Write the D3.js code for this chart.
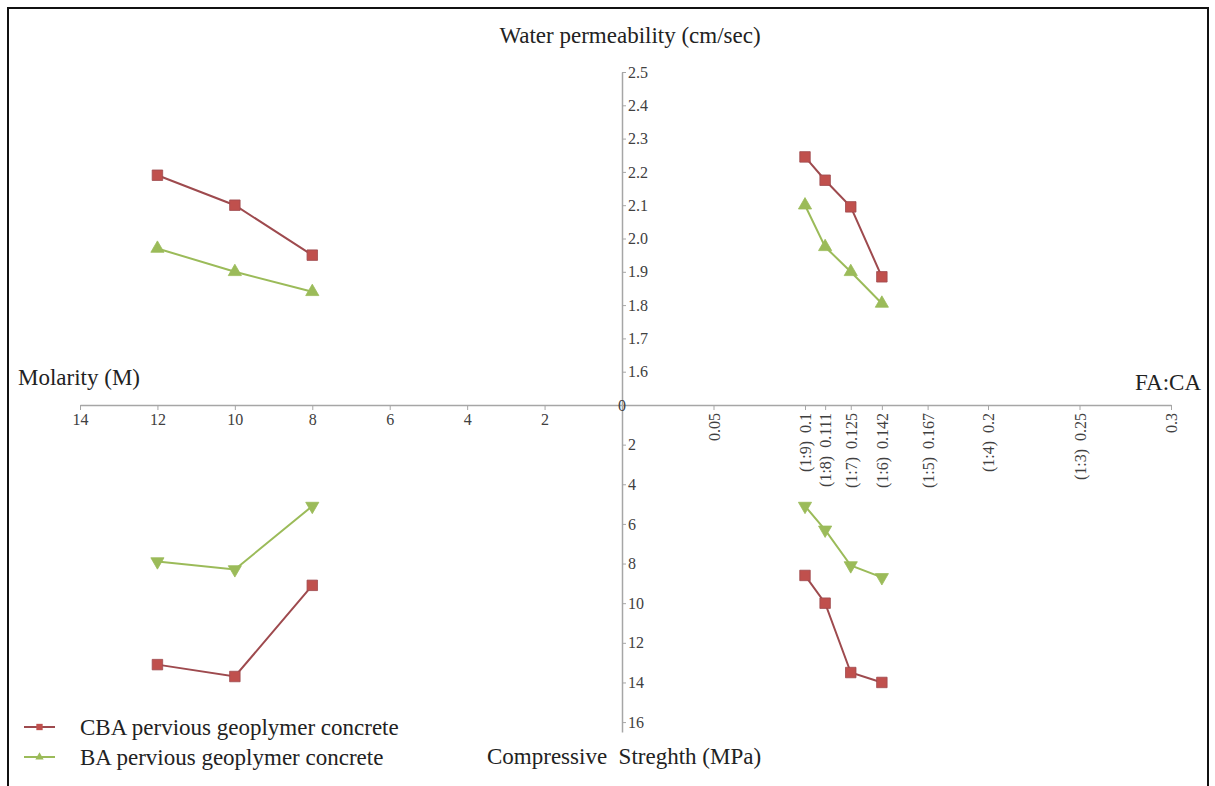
<!DOCTYPE html>
<html>
<head>
<meta charset="utf-8">
<script src="https://cdn.jsdelivr.net/npm/d3@7"></script>
<style>
  body { margin: 0; background: #fff; }
  svg text { font-family: "Liberation Serif", "Times New Roman", serif; }
</style>
</head>
<body>
<div id="chart"></div>
<script>
// quadrant chart: left = molarity, right = FA:CA, top = permeability, bottom = strength
var svgWidth = 1215;
var svgHeight = 786;

// x categories
var molarity = [12, 10, 8];
var faca = [0.1, 0.111, 0.125, 0.142];

// water permeability (cm/sec)
var permCBA_M = [2.19, 2.10, 1.95];
var permBA_M = [1.97, 1.90, 1.84];
var permCBA_F = [2.245, 2.175, 2.095, 1.885];
var permBA_F = [2.10, 1.975, 1.90, 1.805];

// compressive strength (MPa)
var strCBA_M = [13.1, 13.7, 9.1];
var strBA_M = [7.9, 8.3, 5.1];
var strCBA_F = [8.6, 10.0, 13.5, 14.0];
var strBA_F = [5.1, 6.3, 8.1, 8.7];

// tick values / labels
var molTicks = [14, 12, 10, 8, 6, 4, 2];
var facaTicks = [0.05, 0.1, 0.111, 0.125, 0.142, 0.167, 0.2, 0.25, 0.3];
var facaLabels = ["0.05", "(1:9)  0.1", "(1:8)  0.111", "(1:7)  0.125", "(1:6)  0.142",
  "(1:5)  0.167", "(1:4)  0.2", "(1:3)  0.25", "0.3"];
var permTicks = [1.6, 1.7, 1.8, 1.9, 2.0, 2.1, 2.2, 2.3, 2.4, 2.5];
var strTicks = [2, 4, 6, 8, 10, 12, 14, 16];

var red = "#c0504d", redLine = "#9e4a4e";
var green = "#9bbb59", greenLine = "#9bbb59";
var axisColor = "#a6a6a6";
var labelColor = "#404040";

var svg = d3.select("#chart")
  .append("svg")
  .attr("width", svgWidth)
  .attr("height", svgHeight);

// frame
svg.append("rect")
  .attr("x", 8).attr("y", 8)
  .attr("width", 1200).attr("height", 790)
  .attr("fill", "none")
  .attr("stroke", "#111")
  .attr("stroke-width", 2);

var ox = 622, oy = 405;

var xM = d3.scaleLinear().domain([0, 14]).range([ox, 80]);
var xF = d3.scaleLinear().domain([0, 0.3]).range([ox, 1171]);
var yP = d3.scaleLinear().domain([1.5, 2.5]).range([oy, 72]);
var yS = d3.scaleLinear().domain([0, 16.5]).range([oy, 732]);

function styleAxis(g) {
  g.select(".domain").attr("stroke", axisColor).attr("stroke-width", 1.5);
  g.selectAll(".tick line").attr("stroke", axisColor).attr("stroke-width", 1);
  g.selectAll(".tick text")
    .attr("fill", labelColor)
    .style("font-family", "'Liberation Serif', serif")
    .style("font-size", "16px");
}

// left x axis (molarity)
var gM = svg.append("g")
  .attr("transform", `translate(0, ${oy})`)
  .call(d3.axisBottom(xM).tickValues(molTicks).tickSize(5).tickSizeOuter(0).tickPadding(4));
styleAxis(gM);

// right x axis (FA:CA)
var gF = svg.append("g")
  .attr("transform", `translate(0, ${oy})`)
  .call(d3.axisBottom(xF).tickValues(facaTicks).tickSize(5).tickSizeOuter(0)
    .tickFormat((d, i) => facaLabels[i]));
styleAxis(gF);
gF.selectAll(".tick text")
  .attr("y", 0).attr("dy", "0.35em")
  .attr("transform", "translate(0, 8) rotate(-90)")
  .attr("text-anchor", "end")
  .style("white-space", "pre");

// upper y axis (permeability)
var gP = svg.append("g")
  .attr("transform", `translate(${ox}, 0)`)
  .call(d3.axisRight(yP).tickValues(permTicks).tickSize(4).tickSizeOuter(0).tickFormat(d3.format(".1f")).tickPadding(2));
styleAxis(gP);

// lower y axis (strength)
var gS = svg.append("g")
  .attr("transform", `translate(${ox}, 0)`)
  .call(d3.axisRight(yS).tickValues(strTicks).tickSize(4).tickSizeOuter(0).tickPadding(2));
styleAxis(gS);

// origin label
svg.append("text")
  .attr("x", ox).attr("y", oy)
  .attr("dy", "0.35em")
  .attr("text-anchor", "middle")
  .attr("fill", labelColor)
  .style("font-size", "16px")
  .text("0");

// axis titles
svg.append("text").attr("x", 630).attr("y", 43).attr("text-anchor", "middle")
  .attr("fill", "#222").style("font-size", "23px").text("Water permeability (cm/sec)");
svg.append("text").attr("x", 18).attr("y", 385)
  .attr("fill", "#222").style("font-size", "23px").text("Molarity (M)");
svg.append("text").attr("x", 1201).attr("y", 390).attr("text-anchor", "end")
  .attr("fill", "#222").style("font-size", "23px").text("FA:CA");
svg.append("text").attr("x", 487).attr("y", 764)
  .attr("fill", "#222").style("font-size", "23px").style("white-space", "pre")
  .text("Compressive  Streghth (MPa)");

// series
var sqr = d3.symbol().type(d3.symbolSquare).size(110);
var tri = d3.symbol().type(d3.symbolTriangle).size(75);

function drawSeries(xs, ys, xScale, yScale, lineColor, fill, symbol, flip) {
  var pts = xs.map((x, i) => [xScale(x), yScale(ys[i])]);
  svg.append("path")
    .datum(pts)
    .attr("d", d3.line())
    .attr("fill", "none")
    .attr("stroke", lineColor)
    .attr("stroke-width", 2);
  svg.selectAll(null)
    .data(pts)
    .enter()
    .append("path")
    .attr("d", symbol)
    .attr("transform", d => `translate(${d[0]}, ${d[1]})` + (flip ? " rotate(180)" : ""))
    .attr("fill", fill)
    .attr("stroke", lineColor)
    .attr("stroke-width", 0.8);
}

drawSeries(molarity, permCBA_M, xM, yP, redLine, red, sqr, false);
drawSeries(molarity, permBA_M, xM, yP, greenLine, green, tri, false);
drawSeries(faca, permCBA_F, xF, yP, redLine, red, sqr, false);
drawSeries(faca, permBA_F, xF, yP, greenLine, green, tri, false);
drawSeries(molarity, strCBA_M, xM, yS, redLine, red, sqr, false);
drawSeries(molarity, strBA_M, xM, yS, greenLine, green, tri, true);
drawSeries(faca, strCBA_F, xF, yS, redLine, red, sqr, false);
drawSeries(faca, strBA_F, xF, yS, greenLine, green, tri, true);

// legend
var legend = [
  { name: "CBA pervious geoplymer concrete", line: redLine, fill: red, sym: d3.symbol().type(d3.symbolSquare).size(40) },
  { name: "BA pervious geoplymer concrete", line: greenLine, fill: green, sym: d3.symbol().type(d3.symbolTriangle).size(30) }
];
var lg = svg.append("g");
legend.forEach(function(d, i) {
  var y = 727 + i * 30;
  lg.append("line").attr("x1", 24).attr("x2", 55).attr("y1", y).attr("y2", y)
    .attr("stroke", d.line).attr("stroke-width", 2);
  lg.append("path").attr("d", d.sym).attr("transform", `translate(39.5, ${y})`)
    .attr("fill", d.fill);
  lg.append("text").attr("x", 80).attr("y", y).attr("dy", "0.33em")
    .attr("fill", "#222").style("font-size", "23px").text(d.name);
});
</script>
</body>
</html>
